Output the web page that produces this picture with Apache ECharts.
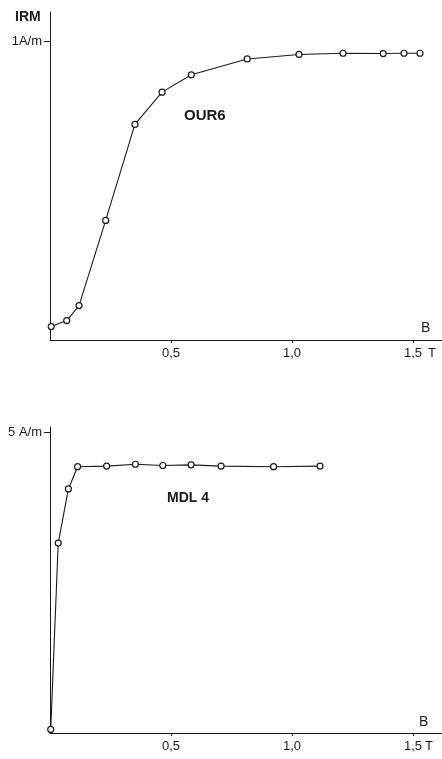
<!DOCTYPE html>
<html>
<head>
<meta charset="utf-8">
<script src="https://cdn.jsdelivr.net/npm/echarts@6/dist/echarts.min.js"></script>
<style>
html,body{margin:0;padding:0;background:#fff;}
#chart{width:442px;height:759px;}
</style>
</head>
<body>
<div id="chart"></div>
<script>
// Data: OUR6 (top panel), field B in tesla, IRM in A/m
const ourB   = [0.005, 0.069, 0.12, 0.23, 0.351, 0.463, 0.584, 0.815, 1.029, 1.211, 1.377, 1.463, 1.529];
const ourIRM = [0.045, 0.065, 0.115, 0.40, 0.721, 0.829, 0.887, 0.940, 0.955, 0.959, 0.958, 0.959, 0.959];
// Data: MDL 4 (bottom panel)
const mdlB   = [0.003, 0.034, 0.076, 0.114, 0.234, 0.353, 0.466, 0.583, 0.707, 0.924, 1.116];
const mdlIRM = [0.06, 3.16, 4.06, 4.43, 4.44, 4.47, 4.45, 4.46, 4.44, 4.43, 4.44];
// Tick values / labels
const xTickValues = [0.5, 1.0, 1.5];
const xTickLabels = ['0,5', '1,0', '1,5'];
const topYTick = [1];
const topYLabel = ['1A/m'];
const botYTick = [5];
const botYLabel = ['5 A/m'];

const FONT = 'Liberation Sans, Arial, sans-serif';
const INK = '#1a1a1a';

function pairs(xs, ys){ return xs.map((x,i)=>[x, ys[i]]); }

function xAxisDef(gi){
  return {
    type:'value', gridIndex:gi, min:0, max:1.62,
    axisLine:{show:true, lineStyle:{color:INK, width:1}},
    axisTick:{show:true, customValues:xTickValues, length:3, lineStyle:{color:INK}},
    axisLabel:{show:true, customValues:xTickValues, margin:7, color:INK, fontFamily:FONT, fontSize:13,
      formatter:(v)=>{ const i = xTickValues.findIndex(t=>Math.abs(t-v)<1e-6); return i>=0? xTickLabels[i] : ''; }},
    splitLine:{show:false}
  };
}
function yAxisDef(gi, max, ticks, labels){
  return {
    type:'value', gridIndex:gi, min:0, max:max,
    axisLine:{show:true, lineStyle:{color:INK, width:1}},
    axisTick:{show:true, customValues:ticks, length:6, lineStyle:{color:INK}},
    axisLabel:{show:true, customValues:ticks, margin:8, color:INK, fontFamily:FONT, fontSize:13,
      formatter:(v)=>{ const i = ticks.findIndex(t=>Math.abs(t-v)<1e-6); return i>=0? labels[i] : ''; }},
    splitLine:{show:false}
  };
}
function lineSeries(xi, yi, data){
  return {
    type:'line', xAxisIndex:xi, yAxisIndex:yi, data:data, clip:false,
    symbol:'circle', symbolSize:6, showSymbol:true,
    itemStyle:{color:'#fff', borderColor:INK, borderWidth:1.2},
    lineStyle:{color:INK, width:1.1}, animation:false
  };
}

const chart = echarts.init(document.getElementById('chart'), null, {renderer:'canvas'});
chart.setOption({
  backgroundColor:'#fff',
  animation:false,
  grid:[
    {left:50, right:0, top:12, bottom:419},
    {left:50, right:0, top:427, bottom:26}
  ],
  xAxis:[xAxisDef(0), xAxisDef(1)],
  yAxis:[yAxisDef(0, 1.097, topYTick, topYLabel), yAxisDef(1, 5.09, botYTick, botYLabel)],
  series:[
    lineSeries(0,0,pairs(ourB, ourIRM)),
    lineSeries(1,1,pairs(mdlB, mdlIRM))
  ],
  graphic:[
    {type:'text', left:15, top:10, style:{text:'IRM', font:'bold 14px '+FONT, fill:INK}},
    {type:'text', left:184, top:108, style:{text:'OUR6', font:'bold 15px '+FONT, fill:INK}},
    {type:'text', left:421, top:321, style:{text:'B', font:'14px '+FONT, fill:INK}},
    {type:'text', left:428, top:347, style:{text:'T', font:'13px '+FONT, fill:INK}},
    {type:'text', left:167, top:491, style:{text:'MDL 4', font:'bold 14px '+FONT, fill:INK}},
    {type:'text', left:419, top:715, style:{text:'B', font:'14px '+FONT, fill:INK}},
    {type:'text', left:425, top:740, style:{text:'T', font:'13px '+FONT, fill:INK}}
  ]
});
</script>
</body>
</html>
